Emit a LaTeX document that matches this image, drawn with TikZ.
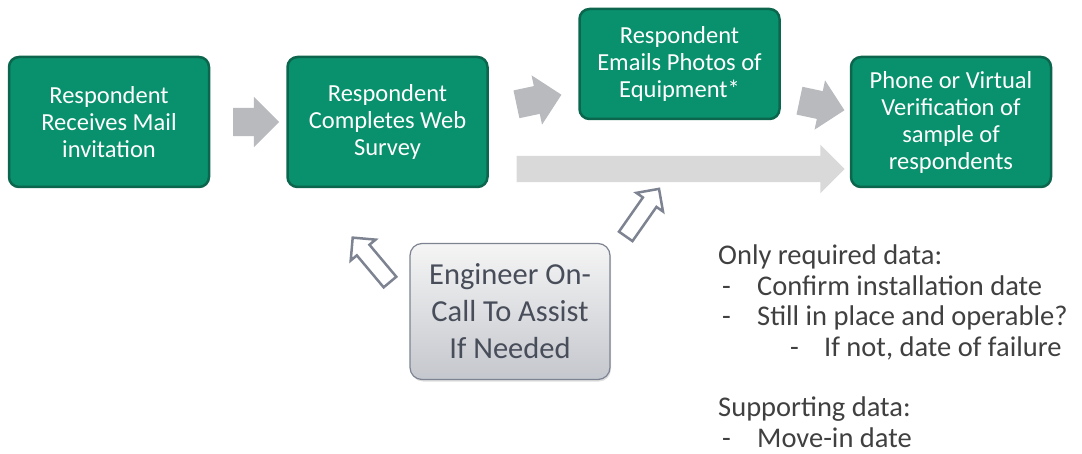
\documentclass[tikz,border=0pt]{standalone}
\usepackage{fontspec}
\setmainfont{Carlito}
\usetikzlibrary{shapes.arrows,shadows}

\definecolor{boxgreen}{RGB}{8,145,108}
\definecolor{boxedge}{RGB}{12,102,77}
\definecolor{flowgray}{RGB}{184,186,190}
\definecolor{skipgray}{RGB}{217,217,217}
\definecolor{helpedge}{RGB}{125,131,145}
\definecolor{helptext}{RGB}{72,77,90}
\definecolor{notetext}{RGB}{64,64,64}

\begin{document}
\begin{tikzpicture}[x=1pt,y=-1pt,
  green node/.style={rectangle,rounded corners=10pt,fill=boxgreen,draw=boxedge,line width=2.5pt,text=white,align=center,minimum width=200pt,minimum height=130pt,font=\fontsize{24.5}{27}\selectfont},
  help node/.style={rectangle,rounded corners=12pt,top color=gray!8,bottom color=helpedge!45,draw=helpedge,line width=1.2pt,text=helptext,align=center,minimum width=200pt,minimum height=136pt,font=\fontsize{30.5}{37}\selectfont,drop shadow={opacity=0.25,shadow xshift=1pt,shadow yshift=-2pt}},
  flow arrow/.style={single arrow,fill=flowgray,inner sep=14pt,single arrow head extend=11pt,minimum height=46pt},
  help arrow/.style={single arrow,fill=white,draw=helpedge,line width=2.5pt,inner sep=7pt,single arrow head extend=8pt,minimum height=58pt}]

  \useasboundingbox (0,0) rectangle (1082,454);

  \node[green node] (mail) at (109,122) {Respondent\\Receives Mail\\invitation};
  \node[green node] (web) at (387.5,122) {Respondent\\Completes Web\\Survey};
  \node[green node,minimum height=110pt] (photos) at (679.5,64) {Respondent\\Emails Photos of\\Equipment*};
  \node[green node] (verify) at (951,122) {Phone or Virtual\\Verification of\\sample of\\respondents};

  \node[flow arrow] (mail-web) at (249,122) {};
  \node[flow arrow,rotate=12] (web-photos) at (532,101) {};
  \node[flow arrow,rotate=-12] (photos-verify) at (815,104) {};
  \node[single arrow,fill=skipgray,inner sep=13pt,single arrow head extend=11pt,minimum height=328pt] (web-verify) at (674,169) {};

  \node[help node] (engineer) at (510,311.5) {Engineer On-\\Call To Assist\\If Needed};
  \node[help arrow,rotate=130] (help-web) at (374,263) {};
  \node[help arrow,rotate=55] (help-photos) at (640,216) {};

  \node[anchor=north west,inner sep=0pt,align=left,text=notetext,font=\fontsize{28.5}{30.5}\selectfont] (notes) at (718,245)
    {Only required data:\\
     \makebox[39pt][l]{\hspace{4pt}-}Confirm installation date\\
     \makebox[39pt][l]{\hspace{4pt}-}Still in place and operable?\\
     \makebox[106pt][l]{\hspace{72pt}-}If not, date of failure\\[30pt]
     Supporting data:\\
     \makebox[39pt][l]{\hspace{4pt}-}Move-in date};
\end{tikzpicture}
\end{document}
